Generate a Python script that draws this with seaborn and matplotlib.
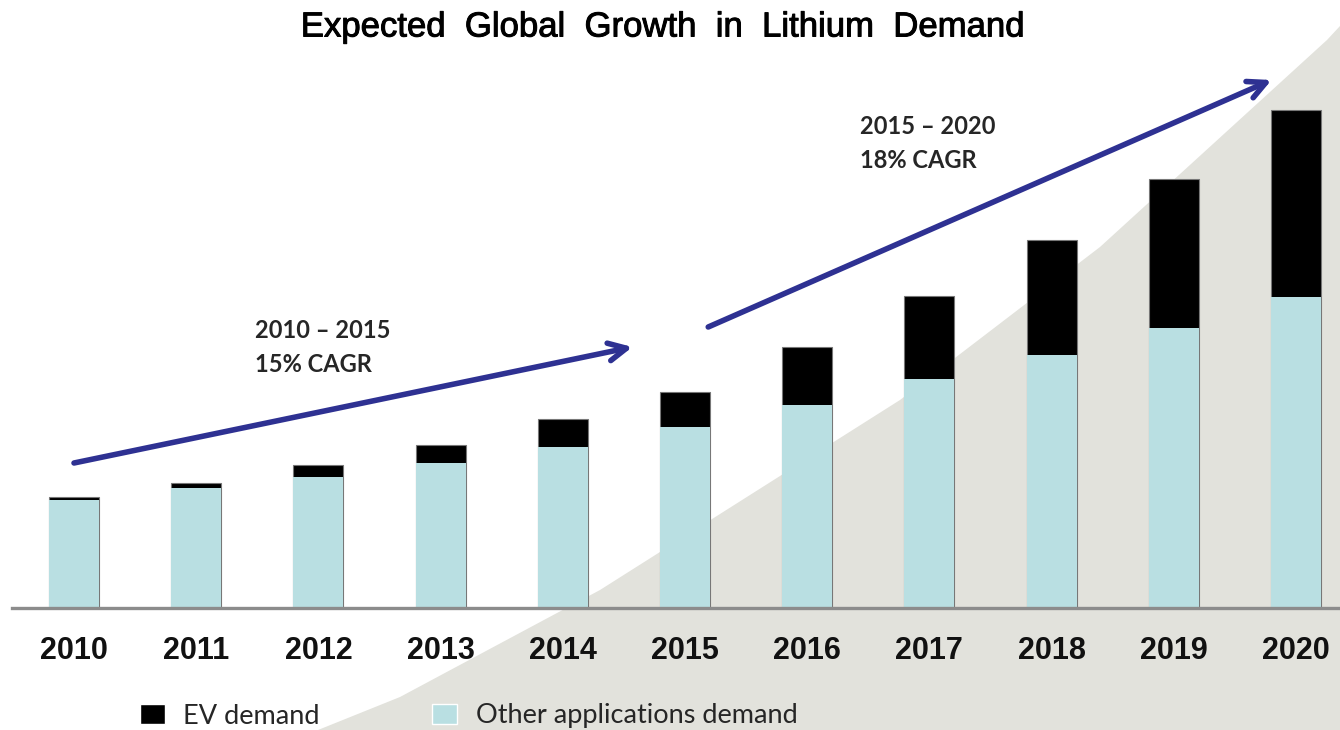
# expected global growth in lithium demand - stacked bars

import numpy as np
import pandas as pd
import seaborn as sns
import matplotlib.pyplot as plt
import matplotlib.patheffects as pe
from matplotlib.patches import Polygon, Patch

years = ['2010', '2011', '2012', '2013', '2014', '2015', '2016', '2017', '2018', '2019', '2020']
other_demand = [108, 120, 131, 145, 161, 181, 203, 229, 253, 280, 311]
ev_demand = [3, 5, 12, 18, 28, 35, 58, 83, 115, 149, 187]

cagr_labels = ['2010 – 2015\n15% CAGR', '2015 – 2020\n18% CAGR']

df = pd.DataFrame({'year': years, 'other': other_demand, 'ev': ev_demand})
df['total'] = df['other'] + df['ev']

sns.set_style('white')
plt.rcParams['font.family'] = ['Liberation Sans', 'DejaVu Sans']

BLUE = '#b9dfe2'
GREY_BG = '#e2e2dc'
NAVY = '#2e3192'

fig = plt.figure(figsize=(13.4, 7.3), dpi=100)
W, H = 1340, 730

# grey swoosh in the background
pts = [(318, 730), (400, 697), (600, 590), (900, 400), (1100, 247), (1327, 40),
       (1340, 26), (1340, 730)]
fig.patches.append(Polygon([(x / W, 1 - y / H) for x, y in pts], closed=True,
                           transform=fig.transFigure, facecolor=GREY_BG,
                           edgecolor='none', zorder=-5))

ax = fig.add_axes([12 / W, 122 / H, 1328 / W, 608 / H])
ax.patch.set_alpha(0)
ax.set_zorder(2)

sns.barplot(data=df, x='year', y='total', color='black', width=0.41,
            edgecolor='#777777', linewidth=0.8, saturation=1, ax=ax)
sns.barplot(data=df, x='year', y='other', color=BLUE, width=0.41,
            edgecolor='none', saturation=1, ax=ax)

step = 122.2
ax.set_xlim(-(74 - 12) / step, (1340 - 74) / step)
ax.set_ylim(0, 608)
ax.set_xlabel('')
ax.set_ylabel('')
ax.set_yticks([])
ax.tick_params(axis='x', length=0, pad=20)
for lbl in ax.get_xticklabels():
    lbl.set_fontsize(22)
    lbl.set_fontweight('bold')
    lbl.set_color('#111111')

for s in ['top', 'right', 'left']:
    ax.spines[s].set_visible(False)
ax.spines['bottom'].set_color('#8c8c8c')
ax.spines['bottom'].set_linewidth(2.4)

# growth arrows
arrow_kw = dict(arrowstyle='->', lw=4, color=NAVY, mutation_scale=32,
                shrinkA=0, shrinkB=0)
ax.annotate('', xy=(4.57, 261), xytext=(0.0, 145), arrowprops=arrow_kw)
ax.annotate('', xy=(9.80, 528), xytext=(5.19, 281), arrowprops=arrow_kw)

ax.text(1.48, 289, cagr_labels[0], fontsize=17, fontweight='bold', va='top',
        ha='left', family=['Lato', 'DejaVu Sans'], linespacing=1.6)
ax.text(6.43, 493, cagr_labels[1], fontsize=17, fontweight='bold', va='top',
        ha='left', family=['Lato', 'DejaVu Sans'], linespacing=1.6)

fig.text(663 / W, 1 - 27 / H, 'Expected  Global  Growth  in  Lithium  Demand',
         ha='center', va='center', fontsize=25, color='black',
         path_effects=[pe.withStroke(linewidth=0.7, foreground='black')])

handles = [Patch(facecolor='black', label='EV demand'),
           Patch(facecolor=BLUE, label='Other applications demand')]
fig.legend(handles=handles, loc='center left', bbox_to_anchor=(140 / W, 1 - 716 / H),
           ncol=2, frameon=False, borderpad=0, borderaxespad=0,
           handlelength=0.93, handleheight=0.74,
           columnspacing=4.15, handletextpad=0.67,
           prop={'family': ['Lato', 'DejaVu Sans'], 'size': 19.5})

fig.savefig('out.png', dpi=100)
